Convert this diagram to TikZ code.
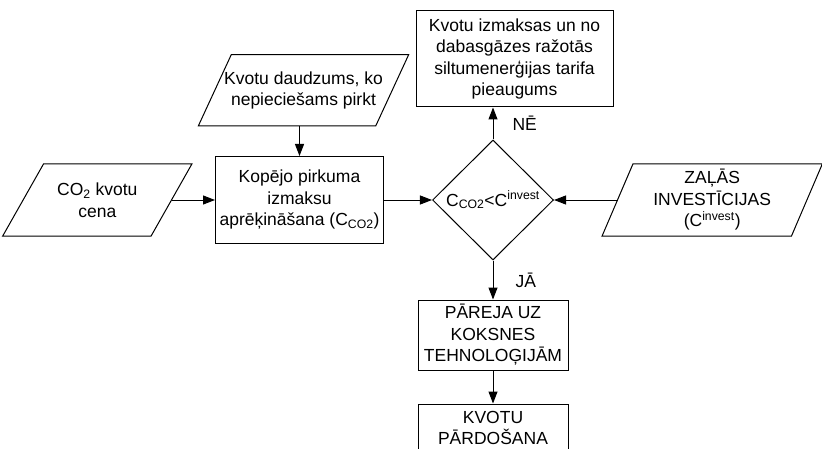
\documentclass[tikz,border=0pt]{standalone}
\usepackage{fontspec}
\setmainfont{Liberation Sans}
\usetikzlibrary{shapes.geometric, arrows.meta, positioning, calc}

% slanted outline round a data node: node name, half of the slant
\newcommand{\dataframe}[2]{%
  \draw[line width=1pt] ($(#1.south west)+(-#2pt,0)$) -- ($(#1.south east)+(-#2pt,0)$)
    -- ($(#1.north east)+(#2pt,0)$) -- ($(#1.north west)+(#2pt,0)$) -- cycle;}

\begin{document}
\begin{tikzpicture}[
    x=1pt, y=1pt,
    font=\fontsize{17.5}{21.5}\selectfont,
    node distance=30pt and 40pt,
    box/.style 2 args={draw, line width=1pt, minimum width=#1, minimum height=#2, inner sep=2pt, align=center},
    data/.style={minimum width=#1, minimum height=72pt, inner sep=0pt, align=center},
    decision/.style={diamond, draw, line width=1pt, minimum width=121pt, minimum height=120pt, inner sep=0pt},
    arrow/.style={-{Triangle[length=12pt, width=9pt]}, line width=1pt},
    lbl/.style={inner sep=0pt}
]
\useasboundingbox (0,0) rectangle (822,448);
\clip (0,0) rectangle (822,448);

%% decision
\node[decision] (cmp) at (493,248) {C\textsubscript{CO2}<C\textsuperscript{invest}};

%% left branch
\node[box={168pt}{87pt}, left=48pt of cmp] (calc) {Kopējo pirkuma\\izmaksu\\aprēķināšana (C\textsubscript{CO2})};
\node[data=148pt, left=43.5pt of calc] (price) {CO\textsubscript{2} kvotu\\cena};
\node[data=177pt, minimum height=71pt, above=30pt of calc, xshift=4pt] (amount) {Kvotu daudzums, ko\\nepieciešams pirkt};
\dataframe{price}{20.5}
\dataframe{amount}{16.5}

%% right branch
\node[data=189pt, right=63.5pt of cmp] (invest) {ZAĻĀS\\INVESTĪCIJAS\\(C\textsuperscript{invest})};
\dataframe{invest}{15.5}
\node[box={197pt}{96pt}, above=32pt of cmp, xshift=21.5pt] (tariff) {Kvotu izmaksas un no\\dabasgāzes ražotās\\siltumenerģijas tarifa\\pieaugums};

%% lower branch
\node[box={150pt}{70pt}, below=39pt of cmp] (switch) {PĀREJA UZ\\KOKSNES\\TEHNOLOĢIJĀM};
\node[box={150pt}{48pt}, below=33pt of switch] (sell) {KVOTU\\PĀRDOŠANA};

\draw[arrow] (price) -- (calc);
\draw[arrow] (calc.north |- amount.south) -- (calc.north);
\draw[arrow] (calc) -- (cmp);
\draw[arrow] (invest) -- (cmp);
\draw[arrow] (cmp.north) -- (cmp.north |- tariff.south) node[lbl, midway, right=19pt] (no) {NĒ};
\draw[arrow] (cmp.south) -- (switch.north) node[lbl, midway, right=22pt] (yes) {JĀ};
\draw[arrow] (switch) -- (sell);

\end{tikzpicture}
\end{document}
